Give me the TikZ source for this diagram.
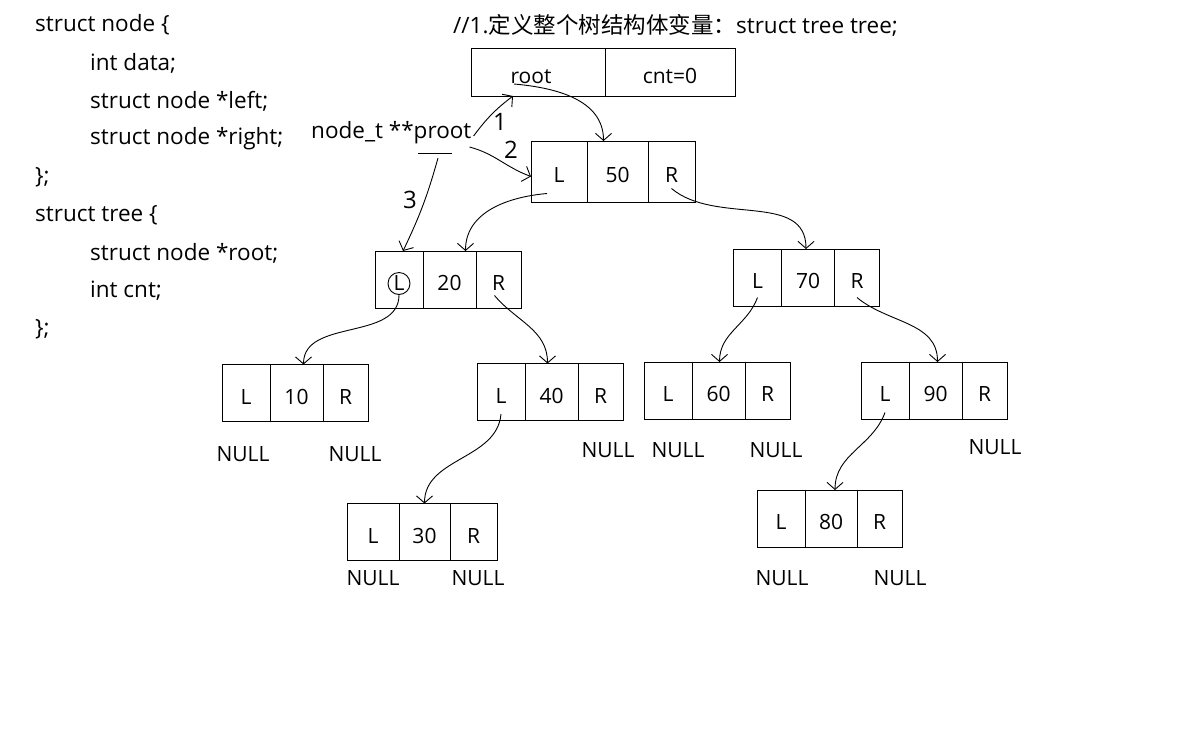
\documentclass[tikz,border=0pt]{standalone}
\usepackage{fontspec}
\setmainfont{Open Sans}
\newfontfamily\cjk{Noto Sans CJK SC}
\usetikzlibrary{arrows.meta,positioning}

\begin{document}
\begin{tikzpicture}[x=1pt, y=1pt, >={Straight Barb[length=7pt,width=16pt]},
  every node/.style={font=\fontsize{21}{25}\selectfont},
  code/.style={anchor=west, inner sep=0pt, font=\fontsize{22.5}{27}\selectfont},
  cell/.style={draw, line width=1pt, outer sep=0pt, minimum height=57pt, text height=22pt, text depth=0pt, inner sep=0pt},
  lcell/.style={cell, minimum width=48pt},
  vcell/.style={cell, minimum width=53pt},
  rcell/.style={cell, minimum width=45pt},
  ptr/.style={->, line width=0.9pt},
  hand/.style={font=\fontsize{24}{28}\selectfont}]

\useasboundingbox (0,0) rectangle (1188,-753);

% struct definitions
\node[code] (c1) at (35,-25) {struct node \{};
\node[code] (c2) at (90,-63) {int data;};
\node[code] (c3) at (90,-101) {struct node *left;};
\node[code] (c4) at (90,-139) {struct node *right;};
\node[code] (c5) at (35,-177) {\};};
\node[code] (c6) at (35,-215) {struct tree \{};
\node[code] (c7) at (90,-253) {struct node *root;};
\node[code] (c8) at (90,-291) {int cnt;};
\node[code] (c9) at (35,-329) {\};};

\node[code] (title) at (453,-25) {//1.{\cjk 定义整个树结构体变量：}struct tree tree;};
\node[code] (proot) at (311,-133) {node\_t **proot};

% tree variable
\node[cell, minimum width=134pt, minimum height=48pt] (root) at (538,-72) {\hspace*{-14pt}root};
\node[cell, minimum width=130pt, minimum height=48pt, right=0pt of root] (cnt) {cnt=0};

% nodes
\node[lcell, minimum width=56pt, minimum height=61pt] (n50L) at (559,-171.5) {L};
\node[vcell, minimum width=61pt, minimum height=61pt, right=0pt of n50L] (n50) {50};
\node[rcell, minimum width=47pt, minimum height=61pt, right=0pt of n50] (n50R) {R};

\node[lcell] (n20L) at (399,-279.5) {L};
\node[vcell, right=0pt of n20L] (n20) {20};
\node[rcell, right=0pt of n20] (n20R) {R};

\node[lcell] (n70L) at (757.5,-277.5) {L};
\node[vcell, right=0pt of n70L] (n70) {70};
\node[rcell, right=0pt of n70] (n70R) {R};

\node[lcell] (n10L) at (246,-393) {L};
\node[vcell, right=0pt of n10L] (n10) {10};
\node[rcell, right=0pt of n10] (n10R) {R};

\node[lcell] (n40L) at (501,-392) {L};
\node[vcell, right=0pt of n40L] (n40) {40};
\node[rcell, right=0pt of n40] (n40R) {R};

\node[lcell] (n60L) at (668,-390.5) {L};
\node[vcell, right=0pt of n60L] (n60) {60};
\node[rcell, right=0pt of n60] (n60R) {R};

\node[lcell] (n90L) at (885,-390.5) {L};
\node[vcell, right=0pt of n90L] (n90) {90};
\node[rcell, right=0pt of n90] (n90R) {R};

\node[lcell, minimum width=52pt] (n30L) at (373,-532) {L};
\node[vcell, minimum width=51pt, right=0pt of n30L] (n30) {30};
\node[rcell, minimum width=47pt, right=0pt of n30] (n30R) {R};

\node[lcell] (n80L) at (781,-518.5) {L};
\node[vcell, minimum width=52pt, right=0pt of n80L] (n80) {80};
\node[rcell, right=0pt of n80] (n80R) {R};

% NULL leaves
\node (null10a) at (243,-454) {NULL};
\node (null10b) at (355,-454) {NULL};
\node (null40) at (608,-450) {NULL};
\node (null60a) at (678,-450) {NULL};
\node (null60b) at (776,-450) {NULL};
\node (null90) at (995,-447) {NULL};
\node (null30a) at (373,-578) {NULL};
\node (null30b) at (478,-578) {NULL};
\node (null80a) at (782,-578) {NULL};
\node (null80b) at (900,-578) {NULL};

% proot steps
\draw[ptr] ([shift={(-24,-12)}]root.center) to[out=-5, in=90] ([xshift=-14pt]n50.north);
\draw[ptr] ([shift={(2,-3)}]proot.east) to[bend left=8] ([xshift=-25pt]root.south);
\node[hand] (one) at (500,-122) {1};
\draw[ptr] ([shift={(-2,-14)}]proot.east) to[out=-15, in=160] ([yshift=-5pt]n50L.west);
\node[hand] (two) at (511,-150) {2};
\coordinate (u1) at (418,-153);
\coordinate (u2) at (452,-153);
\draw[line width=0.9pt] (u1) -- (u2);
\coordinate (p3) at (438,-158);
\draw[ptr] (p3) to[bend left=5] ([xshift=4pt]n20L.north);
\node[hand] (three) at (410,-200) {3};

% child links
\node[draw, circle, line width=0.9pt, minimum size=22pt, inner sep=0pt] (lmark) at ([yshift=-4pt]n20L.center) {};
\draw[ptr] ([shift={(-12,-22)}]n50L.center) to[out=185, in=90] ([xshift=16pt]n20.north);
\draw[ptr] ([yshift=-17pt]n50R.center) to[out=-40, in=90] ([xshift=-2pt]n70.north);
\draw[ptr] (lmark.south) to[out=-90, in=90] ([xshift=7pt]n10.north);
\draw[ptr] ([shift={(-4,-16)}]n20R.center) to[out=-50, in=90] ([xshift=-4pt]n40.north);
\draw[ptr] ([yshift=-20pt]n70L.center) to[out=-110, in=90] ([xshift=1pt]n60.north);
\draw[ptr] ([yshift=-20pt]n70R.center) to[out=-40, in=90] ([xshift=2pt]n90.north);
\draw[ptr] ([yshift=-22pt]n40L.center) to[out=-95, in=90] (n30.north);
\draw[ptr] ([yshift=-22pt]n90L.center) to[out=-110, in=90] ([xshift=4pt]n80.north);
\end{tikzpicture}
\end{document}
